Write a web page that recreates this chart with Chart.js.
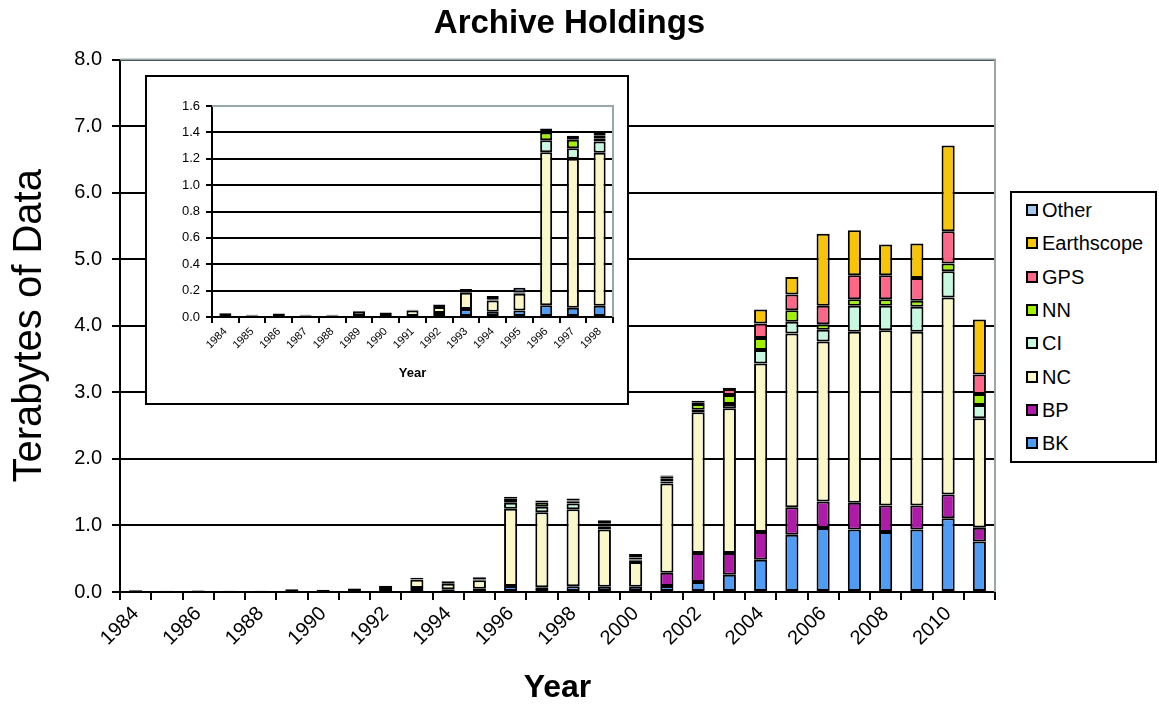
<!DOCTYPE html>
<html><head><meta charset="utf-8">
<script src="https://cdn.jsdelivr.net/npm/chart.js@4.4.1/dist/chart.umd.min.js"></script>
<style>
html,body{margin:0;padding:0;background:#fff;}
#wrap{position:relative;width:1159px;height:707px;overflow:hidden;}
#main{position:absolute;left:0;top:0;}
#insetBox{position:absolute;left:145px;top:75px;width:480px;height:326px;border:2px solid #000;background:#fff;}
#inset{position:absolute;left:0;top:0;}
#legend{position:absolute;left:1010px;top:191px;width:143px;height:268px;border:2px solid #000;background:#fff;font-family:"Liberation Sans",Arial,sans-serif;font-size:20px;color:#000;}
.item{position:absolute;left:14px;height:24px;line-height:24px;display:flex;align-items:center;white-space:nowrap;}
.sw{width:8px;height:8px;border:2px solid #000;margin-right:4px;}
</style></head>
<body>
<div id="wrap">
  <canvas id="main" width="1159" height="707"></canvas>
  <div id="insetBox"><canvas id="inset" width="480" height="326"></canvas></div>
  <div id="legend"></div>
</div>
<script>
const years = ['1984','1985','1986','1987','1988','1989','1990','1991','1992','1993','1994','1995','1996','1997','1998','1999','2000','2001','2002','2003','2004','2005','2006','2007','2008','2009','2010','2011'];
const BK = [0,0,0,0,0,0,0,0,0.03,0.06,0.04,0.05,0.09,0.07,0.085,0.08,0.08,0.09,0.15,0.26,0.485,0.86,0.96,0.94,0.90,0.94,1.11,0.76];
const BP = [0,0,0,0,0,0,0,0,0,0,0,0,0,0,0,0,0,0.20,0.435,0.325,0.415,0.415,0.40,0.40,0.40,0.36,0.355,0.205];
const NC = [0.025,0.012,0.022,0.012,0.012,0.04,0.03,0.05,0.045,0.123,0.085,0.126,1.16,1.13,1.16,0.86,0.37,1.34,2.115,2.175,2.535,2.61,2.405,2.57,2.635,2.61,2.96,1.645];
const CI = [0,0,0,0,0,0,0,0,0,0.01,0.01,0.01,0.09,0.08,0.085,0.04,0.02,0.03,0.04,0.065,0.20,0.175,0.175,0.39,0.365,0.375,0.395,0.20];
const NN = [0,0,0,0,0,0,0,0,0,0,0,0,0.06,0.065,0.025,0.015,0.02,0.05,0.085,0.135,0.18,0.175,0.085,0.10,0.10,0.09,0.115,0.165];
const GPS = [0,0,0,0,0,0,0,0,0,0,0,0,0,0,0.02,0.03,0.03,0.02,0.02,0.09,0.22,0.235,0.275,0.36,0.36,0.345,0.485,0.295];
const Earthscope = [0,0,0,0,0,0,0,0,0,0,0,0,0,0,0,0,0,0,0,0,0.21,0.265,1.085,0.675,0.46,0.515,1.29,0.825];
const Other = [0.005,0.005,0.005,0.005,0.005,0.005,0.005,0.005,0.02,0.02,0.025,0.035,0.03,0.03,0.03,0.055,0.05,0.02,0.03,0.02,0,0,0,0,0,0,0,0];
const insetYears = years.slice(0, 15);

const F = '"Liberation Sans", Arial, sans-serif';
const seriesDefs = [
  ['BK', BK, '#4f9cf6'],
  ['BP', BP, '#b01aa8'],
  ['NC', NC, '#faf8c8'],
  ['CI', CI, '#c8f8e0'],
  ['NN', NN, '#a0f000'],
  ['GPS', GPS, '#ff6688'],
  ['Earthscope', Earthscope, '#f8c408'],
  ['Other', Other, '#a8c8f0']
];

function makeSets(n, pct) {
  return seriesDefs.map(([name, vals, col]) => ({
    label: name,
    data: vals.slice(0, n).map(v => v === 0 ? null : v),
    backgroundColor: col,
    borderColor: '#000',
    borderWidth: 2,
    borderSkipped: false,
    barPercentage: pct,
    categoryPercentage: 1,
    yAxisID: 'y'
  }));
}

const frame = {
  id: 'frame',
  beforeDatasetsDraw(chart) {
    const a = chart.chartArea, c = chart.ctx;
    c.save();
    c.strokeStyle = '#98a8a8';
    c.lineWidth = 2;
    c.beginPath();
    c.moveTo(a.left, a.top);
    c.lineTo(a.right, a.top);
    c.lineTo(a.right, a.bottom);
    c.stroke();
    c.restore();
  }
};

new Chart(document.getElementById('main'), {
  type: 'bar',
  data: { labels: years, datasets: makeSets(years.length, 0.42) },
  plugins: [frame],
  options: {
    responsive: false, animation: false,
    layout: { padding: { left: 0, right: 20, top: 0, bottom: 0 } },
    plugins: {
      legend: { display: false }, tooltip: { enabled: false },
      title: { display: true, text: 'Archive Holdings', color: '#000',
        font: { family: F, size: 33, weight: 'bold' }, padding: { top: 4, bottom: 16 } }
    },
    scales: {
      x: {
        stacked: true,
        grid: { drawOnChartArea: false, drawTicks: true, tickLength: 8, color: '#000', lineWidth: 2 },
        border: { color: '#000', width: 2 },
        ticks: { autoSkip: false, maxRotation: 45, minRotation: 45, color: '#000', padding: 2,
          font: { family: F, size: 20 }, callback: (v, i) => i % 2 === 0 ? years[i] : '' },
        title: { display: true, text: 'Year', color: '#000', font: { family: F, size: 32, weight: 'bold' }, padding: { top: 0, bottom: 0 } },
        afterFit: s => { s.height = 115; }
      },
      y: {
        stacked: true, min: 0, max: 8,
        grid: { color: '#000', lineWidth: 2, tickLength: 8 },
        border: { color: '#000', width: 2 },
        ticks: { stepSize: 1, color: '#000', padding: 10, font: { family: F, size: 20 }, callback: v => Number(v).toFixed(1) },
        title: { display: true, text: 'Terabytes of Data', color: '#000', font: { family: F, size: 40 }, padding: { top: 6, bottom: 0 } },
        afterFit: s => { s.width = 120; }
      },
      side: {
        type: 'linear', position: 'right', display: true,
        grid: { drawOnChartArea: false, drawTicks: false },
        border: { display: false },
        ticks: { display: false },
        afterFit: s => { s.width = 144; }
      }
    }
  }
});

new Chart(document.getElementById('inset'), {
  type: 'bar',
  data: { labels: insetYears, datasets: makeSets(insetYears.length, 0.45) },
  plugins: [frame],
  options: {
    responsive: false, animation: false,
    layout: { padding: { left: 0, right: 14, top: 29, bottom: 0 } },
    plugins: { legend: { display: false }, tooltip: { enabled: false } },
    scales: {
      x: {
        stacked: true,
        grid: { drawOnChartArea: false, drawTicks: true, tickLength: 6, color: '#000', lineWidth: 2 },
        border: { color: '#000', width: 2 },
        ticks: { autoSkip: false, maxRotation: 45, minRotation: 45, color: '#000', padding: 2,
          font: { family: F, size: 11 }, callback: (v, i) => insetYears[i] },
        title: { display: true, text: 'Year', color: '#000', font: { family: F, size: 13, weight: 'bold' }, padding: { top: 0, bottom: 22 } },
        afterFit: s => { s.height = 86; }
      },
      y: {
        stacked: true, min: 0, max: 1.6,
        grid: { color: '#000', lineWidth: 2, tickLength: 6 },
        border: { color: '#000', width: 2 },
        ticks: { stepSize: 0.2, color: '#000', padding: 6, font: { family: F, size: 13 }, callback: v => Number(v).toFixed(1) },
        afterFit: s => { s.width = 65; }
      }
    }
  }
});

const leg = document.getElementById('legend');
seriesDefs.slice().reverse().forEach(([name, , col], i) => {
  const d = document.createElement('div');
  d.className = 'item';
  d.style.top = (5 + i * 33.3) + 'px';
  d.innerHTML = '<span class="sw" style="background:' + col + '"></span><span>' + name + '</span>';
  leg.appendChild(d);
});
</script>
</body></html>
